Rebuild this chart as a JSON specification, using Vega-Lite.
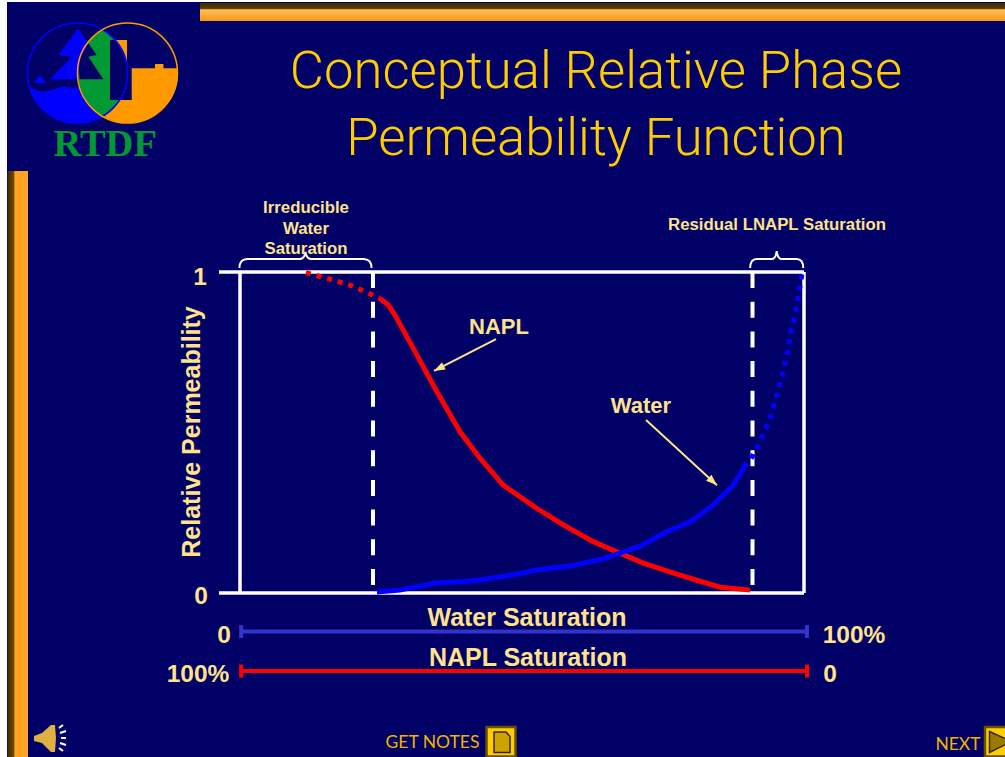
{
"$schema":"https://vega.github.io/schema/vega-lite/v6.json",
"width":1005,"height":757,"padding":0,
"autosize":{"type":"none"},
"background":"#000066",
"config":{"view":{"stroke":null}},
"datasets":{
"margins":[{"x":-42.553,"x2":-41.312,"y":-0.5109,"y2":1.8474},{"x":-42.553,"x2":135.638,"y":1.8411,"y2":1.8474}],
"topbar":[{"x":-7.092,"x2":135.638,"y":1.782,"y2":1.838}],
"leftbar":[{"x":-41.22,"x2":-37.59,"y":-0.5109,"y2":1.3146}],
"logo":[{"x":-24.38,"y":1.62}],
"title":[{"x":63.12,"y":1.622,"label":"Conceptual Relative Phase"},{"x":63.12,"y":1.415,"label":"Permeability Function"}],
"rtdf":[{"x":-23.9,"y":1.4}],
"frameH":[{"x":-3.72,"x2":100,"y":1},{"x":-3.72,"x2":100,"y":0}],
"frameV":[{"x":0,"y":1,"y2":0},{"x":100,"y":1,"y2":0}],
"limits":[{"x":23.58,"y":1,"y2":0.025},{"x":90.87,"y":1,"y2":0.025}],
"naplDotted":[{"x":11.68,"y":0.998},{"x":15.93,"y":0.978},{"x":19.82,"y":0.957},{"x":23.36,"y":0.929},{"x":24.82,"y":0.918}],
"naplSolid":[{"x":24.82,"y":0.918},{"x":26.29,"y":0.897},{"x":27.48,"y":0.866},{"x":30.73,"y":0.762},{"x":34.57,"y":0.638},{"x":39.01,"y":0.502},{"x":42.55,"y":0.42},{"x":46.68,"y":0.336},{"x":52.6,"y":0.264},{"x":57.32,"y":0.212},{"x":62.64,"y":0.16},{"x":67.38,"y":0.124},{"x":71.51,"y":0.093},{"x":77.43,"y":0.059},{"x":85.11,"y":0.018},{"x":90.43,"y":0.009}],
"waterSolid":[{"x":24.29,"y":0.003},{"x":28.37,"y":0.009},{"x":34.57,"y":0.031},{"x":40.78,"y":0.037},{"x":46.1,"y":0.05},{"x":49.65,"y":0.061},{"x":52.6,"y":0.072},{"x":58.51,"y":0.084},{"x":63.83,"y":0.104},{"x":67.38,"y":0.124},{"x":70.92,"y":0.146},{"x":75.65,"y":0.191},{"x":79.79,"y":0.222},{"x":83.92,"y":0.274},{"x":87.46,"y":0.336},{"x":89.84,"y":0.405}],
"waterDotted":[{"x":90.62,"y":0.419},{"x":92.39,"y":0.478},{"x":93.98,"y":0.543},{"x":95.04,"y":0.609},{"x":96.11,"y":0.677},{"x":96.99,"y":0.745},{"x":97.7,"y":0.814},{"x":98.58,"y":0.879},{"x":99.2,"y":0.947},{"x":99.65,"y":0.995}],
"arrow1":[{"x":45.39,"y":0.791},{"x":34.4,"y":0.692}],
"arrow2":[{"x":71.99,"y":0.539},{"x":84.57,"y":0.336}],
"head1":[{"x":34.4,"y":0.692}],
"head2":[{"x":84.57,"y":0.336}],
"bracket1":[{"x":11.61,"y":1.0405}],
"bracket2":[{"x":95.16,"y":1.0405}],
"waterBar":[{"x":0,"x2":100.53,"y":-0.12}],
"naplBar":[{"x":0,"x2":100.53,"y":-0.243}],
"waterCaps":[{"x":0.2,"y":-0.12},{"x":100.53,"y":-0.12}],
"naplCaps":[{"x":0.2,"y":-0.243},{"x":100.53,"y":-0.243}],
"ends":[{"x":-7.09,"y":0.98,"label":"1"},{"x":-6.91,"y":-0.0125,"label":"0"},{"x":-2.84,"y":-0.133,"label":"0"},{"x":-7.45,"y":-0.257,"label":"100%"},{"x":108.87,"y":-0.133,"label":"100%"},{"x":104.6,"y":-0.257,"label":"0"}],
"axisTitles":[{"x":50.89,"y":-0.078,"label":"Water Saturation"},{"x":51.06,"y":-0.202,"label":"NAPL Saturation"}],
"series":[{"x":45.92,"y":0.829,"label":"NAPL"},{"x":71.1,"y":0.583,"label":"Water"}],
"yTitle":[{"x":-8.51,"y":0.5016,"label":"Relative Permeability"}],
"notes":[{"x":95.21,"y":1.147,"label":"Residual LNAPL Saturation"},{"x":11.7,"y":1.2,"label":"Irreducible"},{"x":11.7,"y":1.134,"label":"Water"},{"x":11.7,"y":1.072,"label":"Saturation"}],
"footer":[{"x":34.13,"y":-0.467,"label":"GET NOTES"},{"x":127.3,"y":-0.4735,"label":"NEXT"}],
"btnNotes":[{"x":46.28,"y":-0.4626}],
"btnNext":[{"x":134.66,"y":-0.4626}],
"speaker":[{"x":-33.69,"y":-0.4517}]
},
"encoding":{
"x":{"field":"x","type":"quantitative","axis":null,"scale":{"domain":[-42.553,135.638],"nice":false,"zero":false}},
"y":{"field":"y","type":"quantitative","axis":null,"scale":{"domain":[-0.5109,1.8474],"nice":false,"zero":false}}
},
"layer":[
{"data":{"name":"margins"},"mark":{"type":"rect","fill":"#ffffff"},"encoding":{"x2":{"field":"x2"},"y2":{"field":"y2"}}},
{"data":{"name":"topbar"},"mark":{"type":"rect","fill":{"gradient":"linear","x1":0,"y1":0,"x2":0,"y2":1,"stops":[{"offset":0,"color":"#3f2a00"},{"offset":0.3,"color":"#5a3c00"},{"offset":0.38,"color":"#ffc060"},{"offset":0.6,"color":"#ffb040"},{"offset":1,"color":"#f59a10"}]}},"encoding":{"x2":{"field":"x2"},"y2":{"field":"y2"}}},
{"data":{"name":"leftbar"},"mark":{"type":"rect","fill":{"gradient":"linear","x1":0,"y1":0,"x2":1,"y2":0,"stops":[{"offset":0,"color":"#3f2a00"},{"offset":0.3,"color":"#6a4800"},{"offset":0.36,"color":"#ffa020"},{"offset":1,"color":"#ffa528"}]}},"encoding":{"x2":{"field":"x2"},"y2":{"field":"y2"}}},

{"data":{"name":"logo"},"mark":{"type":"point","size":4,"opacity":1,"filled":true,"fill":"#0000ff","strokeWidth":0,"shape":"M-73.5,14Q-62,21 -50,17Q-40,11 -30,15L-22.5,14A50,50 0 0 0 0,43A50,50 0 0 1 -73.5,14Z"}},
{"data":{"name":"logo"},"mark":{"type":"point","size":4,"opacity":1,"filled":true,"fill":"#ff9900","strokeWidth":0,"shape":"M29.2,-4.7L52.5,-4.7L52.5,-9L61,-9L61,-4.7L75.3,-4.7A50,50 0 0 1 0,43A50,50 0 0 0 24.5,-4.7Z"}},
{"data":{"name":"logo"},"mark":{"type":"point","size":4,"opacity":1,"filled":true,"fill":"#009933","strokeWidth":0,"shape":"M0,-43A50,50 0 0 0 0,43A50,50 0 0 0 0,-43Z"}},
{"data":{"name":"logo"},"mark":{"type":"point","size":4,"opacity":1,"filled":true,"fill":"#ff9900","strokeWidth":0,"shape":"M12.5,-33L24.8,-33L24.8,0A50,50 0 0 0 12.5,-33Z"}},
{"data":{"name":"logo"},"mark":{"type":"point","size":4,"opacity":1,"filled":true,"fill":"#000066","strokeWidth":0,"shape":"M7.5,-33L12.5,-33A50,50 0 0 1 24.5,0A50,50 0 0 1 16.6,27L7.5,27Z"}},
{"data":{"name":"logo"},"mark":{"type":"point","size":4,"opacity":1,"filled":true,"fill":"#000066","strokeWidth":0,"shape":"M24.8,-33L29.2,-33L29.2,27L16.6,27L24.5,0Z"}},
{"data":{"name":"logo"},"mark":{"type":"point","size":4,"opacity":1,"filled":true,"fill":"#000066","strokeWidth":0,"shape":"M-14.2,-29.7L-5.8,-18L-14.2,-16.3L0.8,6.3L-23,6.3L-24,-16Z"}},
{"data":{"name":"logo"},"mark":{"type":"point","size":4,"opacity":1,"filled":true,"fill":"#0000ff","strokeWidth":0,"shape":"M-24.2,-44.7L-14.2,-29.7L-22,-16L-24.5,6.3L-52.5,6.3L-30.8,-16.3L-44.2,-18Z M-62.5,2L-56,10.3L-69,10.3Z"}},
{"data":{"name":"logo"},"mark":{"type":"point","size":4,"opacity":1,"filled":false,"fill":"transparent","stroke":"#0000ff","strokeWidth":1.5,"shape":"M-75,0A50,50 0 1 1 25,0A50,50 0 1 1 -75,0Z"}},
{"data":{"name":"logo"},"mark":{"type":"point","size":4,"opacity":1,"filled":false,"fill":"transparent","stroke":"#ff9900","strokeWidth":1.5,"shape":"M-25,0A50,50 0 1 1 75,0A50,50 0 1 1 -25,0Z"}},
{"data":{"name":"rtdf"},"mark":{"type":"text","text":"RTDF","font":"Liberation Serif","fontWeight":"bold","fontSize":38.5,"fill":"#009933","align":"center","baseline":"middle"}},

{"data":{"name":"title"},"mark":{"type":"text","font":"Roboto","fontWeight":300,"fontSize":52.6,"fill":"#ffcc00","align":"center","baseline":"middle"},"encoding":{"text":{"field":"label"}}},

{"data":{"name":"frameH"},"mark":{"type":"rule","stroke":"#ffffff","strokeWidth":3.5},"encoding":{"x2":{"field":"x2"}}},
{"data":{"name":"frameV"},"mark":{"type":"rule","stroke":"#ffffff","strokeWidth":3.5},"encoding":{"y2":{"field":"y2"}}},
{"data":{"name":"limits"},"mark":{"type":"rule","stroke":"#ffffff","strokeWidth":4,"strokeDash":[16,13.7]},"encoding":{"y2":{"field":"y2"}}},

{"data":{"name":"naplDotted"},"mark":{"type":"line","stroke":"#ff0000","strokeWidth":5,"strokeDash":[5,6]}},
{"data":{"name":"naplSolid"},"mark":{"type":"line","stroke":"#ff0000","strokeWidth":5}},
{"data":{"name":"waterSolid"},"mark":{"type":"line","stroke":"#0000ff","strokeWidth":5}},
{"data":{"name":"waterDotted"},"mark":{"type":"line","stroke":"#0000ff","strokeWidth":5,"strokeDash":[5,6]}},

{"data":{"name":"arrow1"},"mark":{"type":"line","stroke":"#ffe28a","strokeWidth":2}},
{"data":{"name":"arrow2"},"mark":{"type":"line","stroke":"#ffe28a","strokeWidth":2}},
{"data":{"name":"head1"},"mark":{"type":"point","size":4,"opacity":1,"filled":true,"fill":"#ffe28a","strokeWidth":0,"shape":"M0,0L11.6,-1.45L8,-8.65Z"}},
{"data":{"name":"head2"},"mark":{"type":"point","size":4,"opacity":1,"filled":true,"fill":"#ffe28a","strokeWidth":0,"shape":"M0,0L-10.9,-4.4L-5.5,-10.4Z"}},

{"data":{"name":"bracket1"},"mark":{"type":"point","size":4,"opacity":1,"filled":false,"fill":"transparent","stroke":"#ffffff","strokeWidth":2,"shape":"M-66,9Q-66,0 -58,0L-6,0Q-1,0 0,-7Q1,0 6,0L58,0Q66,0 66,9"}},
{"data":{"name":"bracket2"},"mark":{"type":"point","size":4,"opacity":1,"filled":false,"fill":"transparent","stroke":"#ffffff","strokeWidth":2,"shape":"M-26.5,9Q-26.5,0 -20,0L-5,0Q-1,0 0,-8Q1,0 5,0L20,0Q26.5,0 26.5,9"}},

{"data":{"name":"waterBar"},"mark":{"type":"rule","stroke":"#3333cc","strokeWidth":4},"encoding":{"x2":{"field":"x2"}}},
{"data":{"name":"naplBar"},"mark":{"type":"rule","stroke":"#ff0000","strokeWidth":4},"encoding":{"x2":{"field":"x2"}}},
{"data":{"name":"waterCaps"},"mark":{"type":"tick","orient":"vertical","color":"#3333cc","size":13,"thickness":4,"opacity":1}},
{"data":{"name":"naplCaps"},"mark":{"type":"tick","orient":"vertical","color":"#ff0000","size":13,"thickness":4,"opacity":1}},

{"data":{"name":"ends"},"mark":{"type":"text","font":"Liberation Sans","fontWeight":"bold","fontSize":24.5,"fill":"#ffe28a","align":"center","baseline":"middle"},"encoding":{"text":{"field":"label"}}},
{"data":{"name":"axisTitles"},"mark":{"type":"text","font":"Liberation Sans","fontWeight":"bold","fontSize":25,"fill":"#ffe28a","align":"center","baseline":"middle"},"encoding":{"text":{"field":"label"}}},
{"data":{"name":"series"},"mark":{"type":"text","font":"Liberation Sans","fontWeight":"bold","fontSize":22,"fill":"#ffe28a","align":"center","baseline":"middle"},"encoding":{"text":{"field":"label"}}},
{"data":{"name":"yTitle"},"mark":{"type":"text","font":"Liberation Sans","fontWeight":"bold","fontSize":25,"fill":"#ffe28a","align":"center","baseline":"middle","angle":270},"encoding":{"text":{"field":"label"}}},
{"data":{"name":"notes"},"mark":{"type":"text","font":"Liberation Sans","fontWeight":"bold","fontSize":16.8,"fill":"#ffe28a","align":"center","baseline":"middle"},"encoding":{"text":{"field":"label"}}},

{"data":{"name":"footer"},"mark":{"type":"text","font":"Lato","fontSize":17.5,"fill":"#f0b400","align":"center","baseline":"middle"},"encoding":{"text":{"field":"label"}}},
{"data":{"name":"btnNotes"},"mark":{"type":"point","size":4,"opacity":1,"filled":true,"fill":"#ffcc00","stroke":"#665000","strokeWidth":2.5,"shape":"M-14.5,-14.5L14.5,-14.5L14.5,15L-14.5,15Z"}},
{"data":{"name":"btnNotes"},"mark":{"type":"point","size":4,"opacity":1,"filled":true,"fill":"#cca300","stroke":"#332800","strokeWidth":1.5,"shape":"M-7,-9.5L5,-9.5L9,-5L9,11L-7,11Z"}},
{"data":{"name":"btnNext"},"mark":{"type":"point","size":4,"opacity":1,"filled":true,"fill":"#ffcc00","stroke":"#665000","strokeWidth":2.5,"shape":"M-14.5,-14.5L14.5,-14.5L14.5,15L-14.5,15Z"}},
{"data":{"name":"btnNext"},"mark":{"type":"point","size":4,"opacity":1,"filled":true,"fill":"#997a00","stroke":"#332800","strokeWidth":1.5,"shape":"M-10,-10L12,0L-10,11Z"}},
{"data":{"name":"speaker"},"mark":{"type":"point","size":4,"opacity":1,"filled":true,"fill":"#e0b040","strokeWidth":0,"shape":"M-16,-2L-8,-5L1,-13L5,-13L6,0L5,14L1,14L-8,5L-16,3Z"}},
{"data":{"name":"speaker"},"mark":{"type":"point","size":4,"opacity":1,"filled":false,"fill":"transparent","stroke":"#ffffff","strokeWidth":2,"shape":"M9,-10L13,-13M10,-5L16,-7M11,0L16,0M10,5L16,7M9,10L13,13"}}
]
}
